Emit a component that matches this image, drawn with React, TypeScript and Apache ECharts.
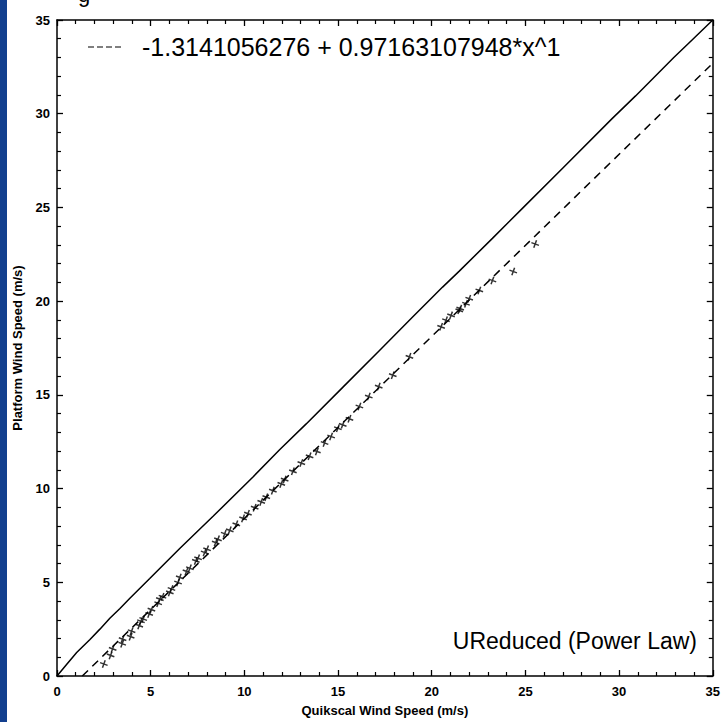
import React, { useEffect, useRef } from "react";
import * as echarts from "echarts";

// Scatter: Quikscat wind speed (x) vs platform wind speed (y), m/s
const scatterX = [2.5, 2.86, 2.97, 3.48, 3.5, 3.93, 3.98, 4.39, 4.48, 4.6, 4.92, 5.04, 5.4, 5.49, 5.63, 6.02, 6.11, 6.46, 6.55, 6.91, 7.09, 7.41, 7.53, 7.88, 8.01, 8.47, 8.59, 8.95, 9.22, 9.57, 9.93, 10.19, 10.55, 10.9, 11.17, 11.52, 11.97, 12.15, 12.59, 13.04, 13.48, 13.87, 14.28, 14.63, 14.99, 15.25, 15.61, 16.14, 16.64, 17.17, 17.92, 18.81, 20.5, 20.76, 21.03, 21.47, 21.52, 21.83, 22.0, 22.54, 23.24, 24.35, 25.52];
const scatterY = [0.64, 1.1, 1.45, 1.72, 1.97, 2.1, 2.39, 2.69, 2.92, 3.04, 3.31, 3.54, 3.88, 4.1, 4.23, 4.46, 4.64, 4.99, 5.26, 5.58, 5.75, 6.14, 6.28, 6.59, 6.76, 7.12, 7.29, 7.59, 7.77, 8.09, 8.41, 8.66, 8.98, 9.29, 9.54, 9.89, 10.25, 10.48, 10.92, 11.36, 11.72, 11.98, 12.43, 12.78, 13.22, 13.4, 13.72, 14.38, 14.91, 15.44, 16.05, 17.03, 18.63, 18.98, 19.24, 19.51, 19.6, 19.86, 20.13, 20.57, 21.1, 21.58, 23.05];

// Solid reference line
const solidX = [0, 0.5, 1.05, 1.76, 2.29, 2.82, 3.36, 3.89, 4.95, 6.55, 8.33, 10.46, 11.88, 13.3, 15.25, 17.2, 18.98, 20.58, 21.47, 23.24, 24.84, 27, 29.64, 30.88, 32.92, 33.7, 35];
const solidY = [0, 0.6, 1.25, 1.95, 2.5, 3.08, 3.6, 4.15, 5.2, 6.8, 8.52, 10.62, 12.07, 13.45, 15.4, 17.35, 19.15, 20.75, 21.6, 23.35, 24.95, 27.1, 29.75, 30.95, 33.0, 33.75, 35];

// Dashed fitted line endpoints
const fitX = [1.35, 35];
const fitY = [0, 32.69];

const tickMin = 0;
const tickMax = 35;
const tickStep = 5;

const legendText = "-1.3141056276 + 0.97163107948*x^1";
const noteText = "UReduced (Power Law)";
const xName = "Quikscal Wind Speed (m/s)";
const yName = "Platform Wind Speed (m/s)";

export default function App() {
  const ref = useRef<HTMLDivElement>(null);
  useEffect(() => {
    if (!ref.current) return;
    const chart = echarts.init(ref.current, null, { renderer: "svg" });
    const labelStyle = {
      fontFamily: "Liberation Sans",
      fontWeight: "bold" as const,
      fontSize: 13,
      color: "#000",
    };
    const baseAxis = {
      min: tickMin,
      max: tickMax,
      interval: tickStep,
      axisLine: { show: true, onZero: false, lineStyle: { color: "#000", width: 1.5 } },
      axisTick: { show: true, inside: true, length: 6, lineStyle: { color: "#000", width: 1.3 } },
      minorTick: { show: true, splitNumber: 5, length: 4, lineStyle: { color: "#000", width: 1.2 } },
      splitLine: { show: false },
    };
    chart.setOption({
      animation: false,
      backgroundColor: "#fff",
      grid: { left: 57, right: 9, top: 20, bottom: 43 },
      xAxis: [
        {
          ...baseAxis,
          type: "value",
          position: "bottom",
          name: xName,
          nameLocation: "middle",
          nameGap: 28,
          nameTextStyle: { ...labelStyle },
          axisLabel: { ...labelStyle, margin: 9 },
        },
        {
          ...baseAxis,
          type: "value",
          position: "top",
          axisLabel: { show: false },
        },
      ],
      yAxis: [
        {
          ...baseAxis,
          type: "value",
          position: "left",
          name: yName,
          nameLocation: "middle",
          nameGap: 33,
          nameTextStyle: { ...labelStyle },
          axisLabel: { ...labelStyle, margin: 7 },
        },
        {
          ...baseAxis,
          type: "value",
          position: "right",
          axisLabel: { show: false },
        },
      ],
      series: [
        {
          type: "line",
          data: solidX.map((x, i) => [x, solidY[i]]),
          showSymbol: false,
          lineStyle: { color: "#000", width: 1.5 },
        },
        {
          type: "line",
          data: fitX.map((x, i) => [x, fitY[i]]),
          showSymbol: false,
          lineStyle: { color: "#000", width: 1.5, type: [8, 6] },
        },
        {
          type: "scatter",
          data: scatterX.map((x, i) => [x, scatterY[i]]),
          symbol: "path://M0,5L10,5M5,0L5,10",
          symbolSize: 8,
          symbolRotate: -20,
          itemStyle: { color: "#000", borderColor: "#000", borderWidth: 1.5 },
        },
      ],
      graphic: [
        { type: "rect", left: 0, top: 0, shape: { width: 7, height: 722 }, style: { fill: "#123f8e" } },
        {
          type: "line",
          shape: { x1: 88, y1: 47, x2: 123, y2: 47 },
          style: { stroke: "#000", lineWidth: 1.2, lineDash: [6, 3] },
        },
        {
          type: "text",
          x: 142,
          y: 47,
          style: {
            text: legendText,
            font: "25px 'Liberation Sans'",
            fill: "#000",
            textVerticalAlign: "middle",
          },
        },
        {
          type: "text",
          x: 697,
          y: 641,
          style: {
            text: noteText,
            font: "23px 'Liberation Sans'",
            fill: "#000",
            textAlign: "right",
            textVerticalAlign: "middle",
          },
        },
        {
          type: "text",
          x: 78,
          y: -17,
          style: { text: "g", font: "22px 'Liberation Sans'", fill: "#000" },
        },
      ],
    });
    return () => chart.dispose();
  }, []);
  return (
    <div
      ref={ref}
      style={{ position: "fixed", left: 0, top: 0, width: 723, height: 722 }}
    />
  );
}
